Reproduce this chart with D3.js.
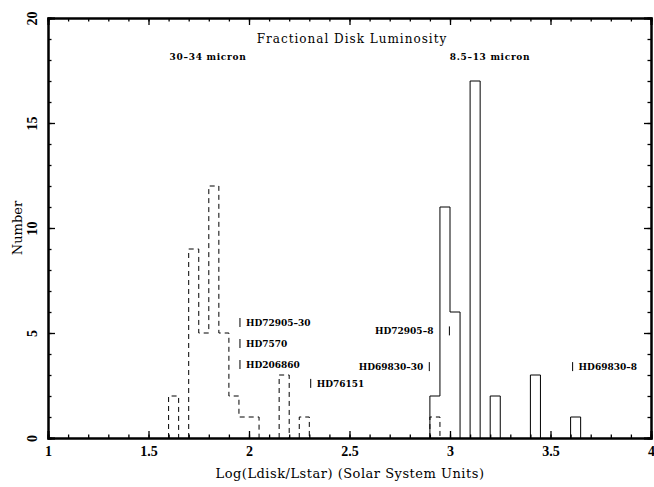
<!DOCTYPE html>
<html>
<head>
  <meta content="text/html;charset=utf-8" http-equiv="Content-Type">
  <title>Fractional Disk Luminosity</title>
<script src="https://cdnjs.cloudflare.com/ajax/libs/d3/7.6.1/d3.min.js"></script>
<style>
  body { margin: 0; background: #fff; }
  text { fill: #000; }
</style>
<script>

// histogram bins (log of Ldisk/Lstar), width 0.05
let binWidth = 0.05;

let binStart30 = [1.60, 1.70, 1.75, 1.80, 1.85, 1.90, 1.95, 2.00, 2.15, 2.25, 2.90];
let count30    = [2,    9,    5,    12,   5,    2,    1,    1,    3,    1,    1   ];

let binStart8  = [2.90, 2.95, 3.00, 3.10, 3.20, 3.40, 3.60];
let count8     = [2,    11,   6,    17,   2,    3,    1   ];

// marked stars: name, log value, height in count units, side of the text
let starNames  = ['HD72905-30', 'HD7570', 'HD206860', 'HD76151', 'HD72905-8', 'HD69830-30', 'HD69830-8'];
let starLogs   = [1.955,        1.955,    1.955,      2.307,     2.997,       2.897,        3.61       ];
let starLevels = [5.5,          4.5,      3.5,        2.6,       5.1,         3.4,          3.4        ];
let starSides  = ['r',          'r',      'r',        'r',       'l',         'l',          'r'        ];

let xTicks = [1, 1.5, 2, 2.5, 3, 3.5, 4];
let yTicks = [0, 5, 10, 15, 20];

function draw() {
   let svg = d3.select('svg');

   let x = d3.scaleLinear().domain([1, 4]).range([48, 651]);
   let y = d3.scaleLinear().domain([0, 20]).range([438, 18]);

//
// histogram outlines, one path per run of adjacent bins
//
   function runs(starts, counts) {
      let out = [], cur = null;
      starts.forEach((x0, i) => {
         if (!cur || Math.abs(cur.end - x0) > 1e-6) {
            if (cur) { cur.pts.push([cur.end, 0]); out.push(cur); }
            cur = {pts: [[x0, 0]], end: x0};
         }
         cur.pts.push([x0, counts[i]], [x0 + binWidth, counts[i]]);
         cur.end = x0 + binWidth;
      });
      cur.pts.push([cur.end, 0]);
      out.push(cur);
      return out.map(r => r.pts);
   }

   let line = d3.line().x(d => x(d[0])).y(d => y(d[1]));

   svg.append('g').selectAll('path')
      .data(runs(binStart30, count30))
      .join('path')
      .attr('d', line)
      .attr('fill', 'none')
      .attr('stroke', '#000')
      .attr('stroke-width', 1)
      .attr('stroke-dasharray', '5,4');

   svg.append('g').selectAll('path')
      .data(runs(binStart8, count8))
      .join('path')
      .attr('d', line)
      .attr('fill', 'none')
      .attr('stroke', '#000')
      .attr('stroke-width', 1);

//
// axes: major + minor ticks pointing inward on all four sides
//
   let minorX = d3.range(10, 41).map(v => v / 10);
   let minorY = d3.range(0, 21);

   function frame(g) {
      g.selectAll('.domain').attr('stroke-width', 2);
      g.selectAll('.tick line').attr('stroke-width', 1.3);
   }

   svg.append('g').attr('transform', `translate(0,${y(0)})`)
      .call(d3.axisBottom(x).tickValues(minorX).tickSize(-3.5).tickFormat(''))
      .call(frame);
   svg.append('g').attr('transform', `translate(0,${y(20)})`)
      .call(d3.axisTop(x).tickValues(minorX).tickSize(-3.5).tickFormat(''))
      .call(frame);
   svg.append('g').attr('transform', `translate(${x(1)},0)`)
      .call(d3.axisLeft(y).tickValues(minorY).tickSize(-3.5).tickFormat(''))
      .call(frame);
   svg.append('g').attr('transform', `translate(${x(4)},0)`)
      .call(d3.axisRight(y).tickValues(minorY).tickSize(-3.5).tickFormat(''))
      .call(frame);

   let bx = svg.append('g').attr('transform', `translate(0,${y(0)})`)
      .call(d3.axisBottom(x).tickValues(xTicks).tickSize(-7).tickPadding(0).tickFormat(d3.format('')))
      .call(frame);
   bx.selectAll('text')
      .attr('y', 17.5).attr('dy', 0)
      .attr('font-family', 'Liberation Serif').attr('font-weight', 'bold').attr('font-size', 14);

   svg.append('g').attr('transform', `translate(0,${y(20)})`)
      .call(d3.axisTop(x).tickValues(xTicks).tickSize(-7).tickFormat(''))
      .call(frame);

   let ly = svg.append('g').attr('transform', `translate(${x(1)},0)`)
      .call(d3.axisLeft(y).tickValues(yTicks).tickSize(-7).tickFormat(d3.format('')))
      .call(frame);
   ly.selectAll('text')
      .attr('x', 0).attr('dy', 0)
      .attr('text-anchor', 'middle')
      .attr('transform', 'translate(-11.5,0) rotate(-90)')
      .attr('font-family', 'Liberation Serif').attr('font-weight', 'bold').attr('font-size', 14);

   svg.append('g').attr('transform', `translate(${x(4)},0)`)
      .call(d3.axisRight(y).tickValues(yTicks).tickSize(-7).tickFormat(''))
      .call(frame);

//
// titles
//
   svg.append('text')
      .attr('x', 352).attr('y', 43)
      .attr('text-anchor', 'middle')
      .attr('font-family', 'DejaVu Serif').attr('font-size', 12)
      .attr('letter-spacing', 1)
      .text('Fractional Disk Luminosity');

   svg.append('text')
      .attr('x', 350).attr('y', 478)
      .attr('text-anchor', 'middle')
      .attr('font-family', 'DejaVu Serif').attr('font-size', 13)
      .attr('letter-spacing', 0.5)
      .text('Log(Ldisk/Lstar) (Solar System Units)');

   svg.append('text')
      .attr('transform', 'translate(22,228) rotate(-90)')
      .attr('text-anchor', 'middle')
      .attr('font-family', 'DejaVu Serif').attr('font-size', 13)
      .text('Number');

   svg.append('text')
      .attr('x', 208).attr('y', 60)
      .attr('text-anchor', 'middle')
      .attr('font-family', 'DejaVu Serif').attr('font-weight', 'bold').attr('font-size', 9)
      .attr('letter-spacing', 0.7)
      .text('30\u201334 micron');

   svg.append('text')
      .attr('x', 490).attr('y', 59.5)
      .attr('text-anchor', 'middle')
      .attr('font-family', 'DejaVu Serif').attr('font-weight', 'bold').attr('font-size', 9)
      .attr('letter-spacing', 0.7)
      .text('8.5\u201313 micron');

//
// star markers
//
   let stars = starNames.map((n, i) => ({name: n, v: starLogs[i], lev: starLevels[i], side: starSides[i]}));

   let sg = svg.append('g').selectAll('g')
      .data(stars)
      .join('g')
      .attr('transform', d => `translate(${x(d.v)},${y(d.lev)})`);

   sg.append('line')
      .attr('y1', -4.5).attr('y2', 4.5)
      .attr('stroke', '#000').attr('stroke-width', 1);

   sg.append('text')
      .attr('x', d => d.side === 'r' ? 6 : (d.name === 'HD72905-8' ? -16 : -6))
      .attr('y', 3.5)
      .attr('text-anchor', d => d.side === 'r' ? 'start' : 'end')
      .attr('font-family', 'DejaVu Serif').attr('font-weight', 'bold').attr('font-size', 9)
      .text(d => d.name.replace('-', '\u2013'));
}

</script>
</head>
<body onload="draw()">
  <svg width=654 height=487></svg>
</body>
</html>
